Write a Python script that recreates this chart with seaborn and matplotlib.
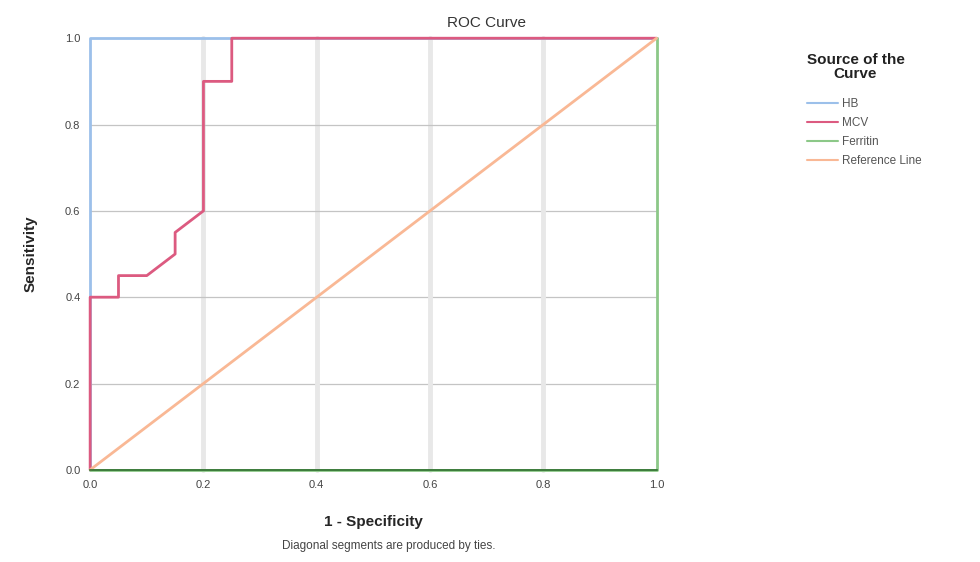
import pandas as pd
import seaborn as sns
import matplotlib.pyplot as plt

# ROC points (1 - specificity, sensitivity)
hb_x = [0.0, 0.0, 1.0]
hb_y = [0.0, 1.0, 1.0]
mcv_x = [0.0, 0.0, 0.05, 0.05, 0.10, 0.15, 0.15, 0.20, 0.20, 0.25, 0.25, 1.0]
mcv_y = [0.0, 0.40, 0.40, 0.45, 0.45, 0.50, 0.55, 0.60, 0.90, 0.90, 1.0, 1.0]
fer_x = [0.0, 1.0, 1.0]
fer_y = [0.0, 0.0, 1.0]
ref_x = [0.0, 1.0]
ref_y = [0.0, 1.0]

series = ["HB", "MCV", "Ferritin", "Reference Line"]
colors = {"HB": "#9cc0ea", "MCV": "#dc5a80", "Ferritin": "#8cc888", "Reference Line": "#f9b895"}

frames = []
for name, xs, ys in zip(series, [hb_x, mcv_x, fer_x, ref_x], [hb_y, mcv_y, fer_y, ref_y]):
    frames.append(pd.DataFrame({"fpr": xs, "tpr": ys, "Curve": name}))
df = pd.concat(frames, ignore_index=True)

sns.set_style("white")
plt.rcParams["font.family"] = ["Liberation Sans", "DejaVu Sans"]

fig = plt.figure(figsize=(9.8, 5.62), dpi=100)
ax = fig.add_axes([0.092, 0.164, 0.578, 0.768])

# grid
for v in [0.2, 0.4, 0.6, 0.8]:
    ax.axvline(v, color="#e8e8e8", lw=3.5, zorder=0)
    ax.axhline(v, color="#c4c4c4", lw=0.9, zorder=0)

sns.lineplot(data=df, x="fpr", y="tpr", hue="Curve", hue_order=series,
             palette=colors, sort=False, estimator=None, units="Curve",
             lw=2.0, ax=ax, legend=False)
for ln in ax.get_lines():
    ln.set_clip_on(False)

ax.set_xlim(0, 1)
ax.set_ylim(0, 1)
ax.set_xticks([0, 0.2, 0.4, 0.6, 0.8, 1.0])
ax.set_yticks([0, 0.2, 0.4, 0.6, 0.8, 1.0])
ax.set_xticklabels(["0.0", "0.2", "0.4", "0.6", "0.8", "1.0"])
ax.set_yticklabels(["0.0", "0.2", "0.4", "0.6", "0.8", "1.0"])
ax.tick_params(labelsize=8, colors="#444444", length=0, pad=7)
for s in ax.spines.values():
    s.set_visible(False)
ax.spines["bottom"].set_visible(True)
ax.spines["bottom"].set_color("#2f6f2f")
ax.spines["bottom"].set_linewidth(1.2)
ax.spines["bottom"].set_zorder(5)

ax.set_title("ROC Curve", fontsize=11, color="#333333", pad=8, x=0.7)
ax.set_xlabel("1 - Specificity", fontsize=11, fontweight="bold", labelpad=18)
ax.set_ylabel("Sensitivity", fontsize=11, fontweight="bold", labelpad=20)

handles = [plt.Line2D([], [], color=colors[s], lw=1.5) for s in series]
leg = fig.legend(handles, series, loc="upper left",
                 bbox_to_anchor=(0.813, 0.845), frameon=False, fontsize=8.5,
                 handlelength=2.6, handletextpad=0.3, labelspacing=0.6)
for t in leg.get_texts():
    t.set_color("#555555")
fig.text(0.873, 0.905, "Source of the\nCurve", fontsize=11, fontweight="bold",
         ha="center", va="top", linespacing=1.0, color="#222222")

fig.text(0.397, 0.023, "Diagonal segments are produced by ties.", fontsize=8.5, color="#444444", ha="center")

fig.savefig("out.png", dpi=100)
